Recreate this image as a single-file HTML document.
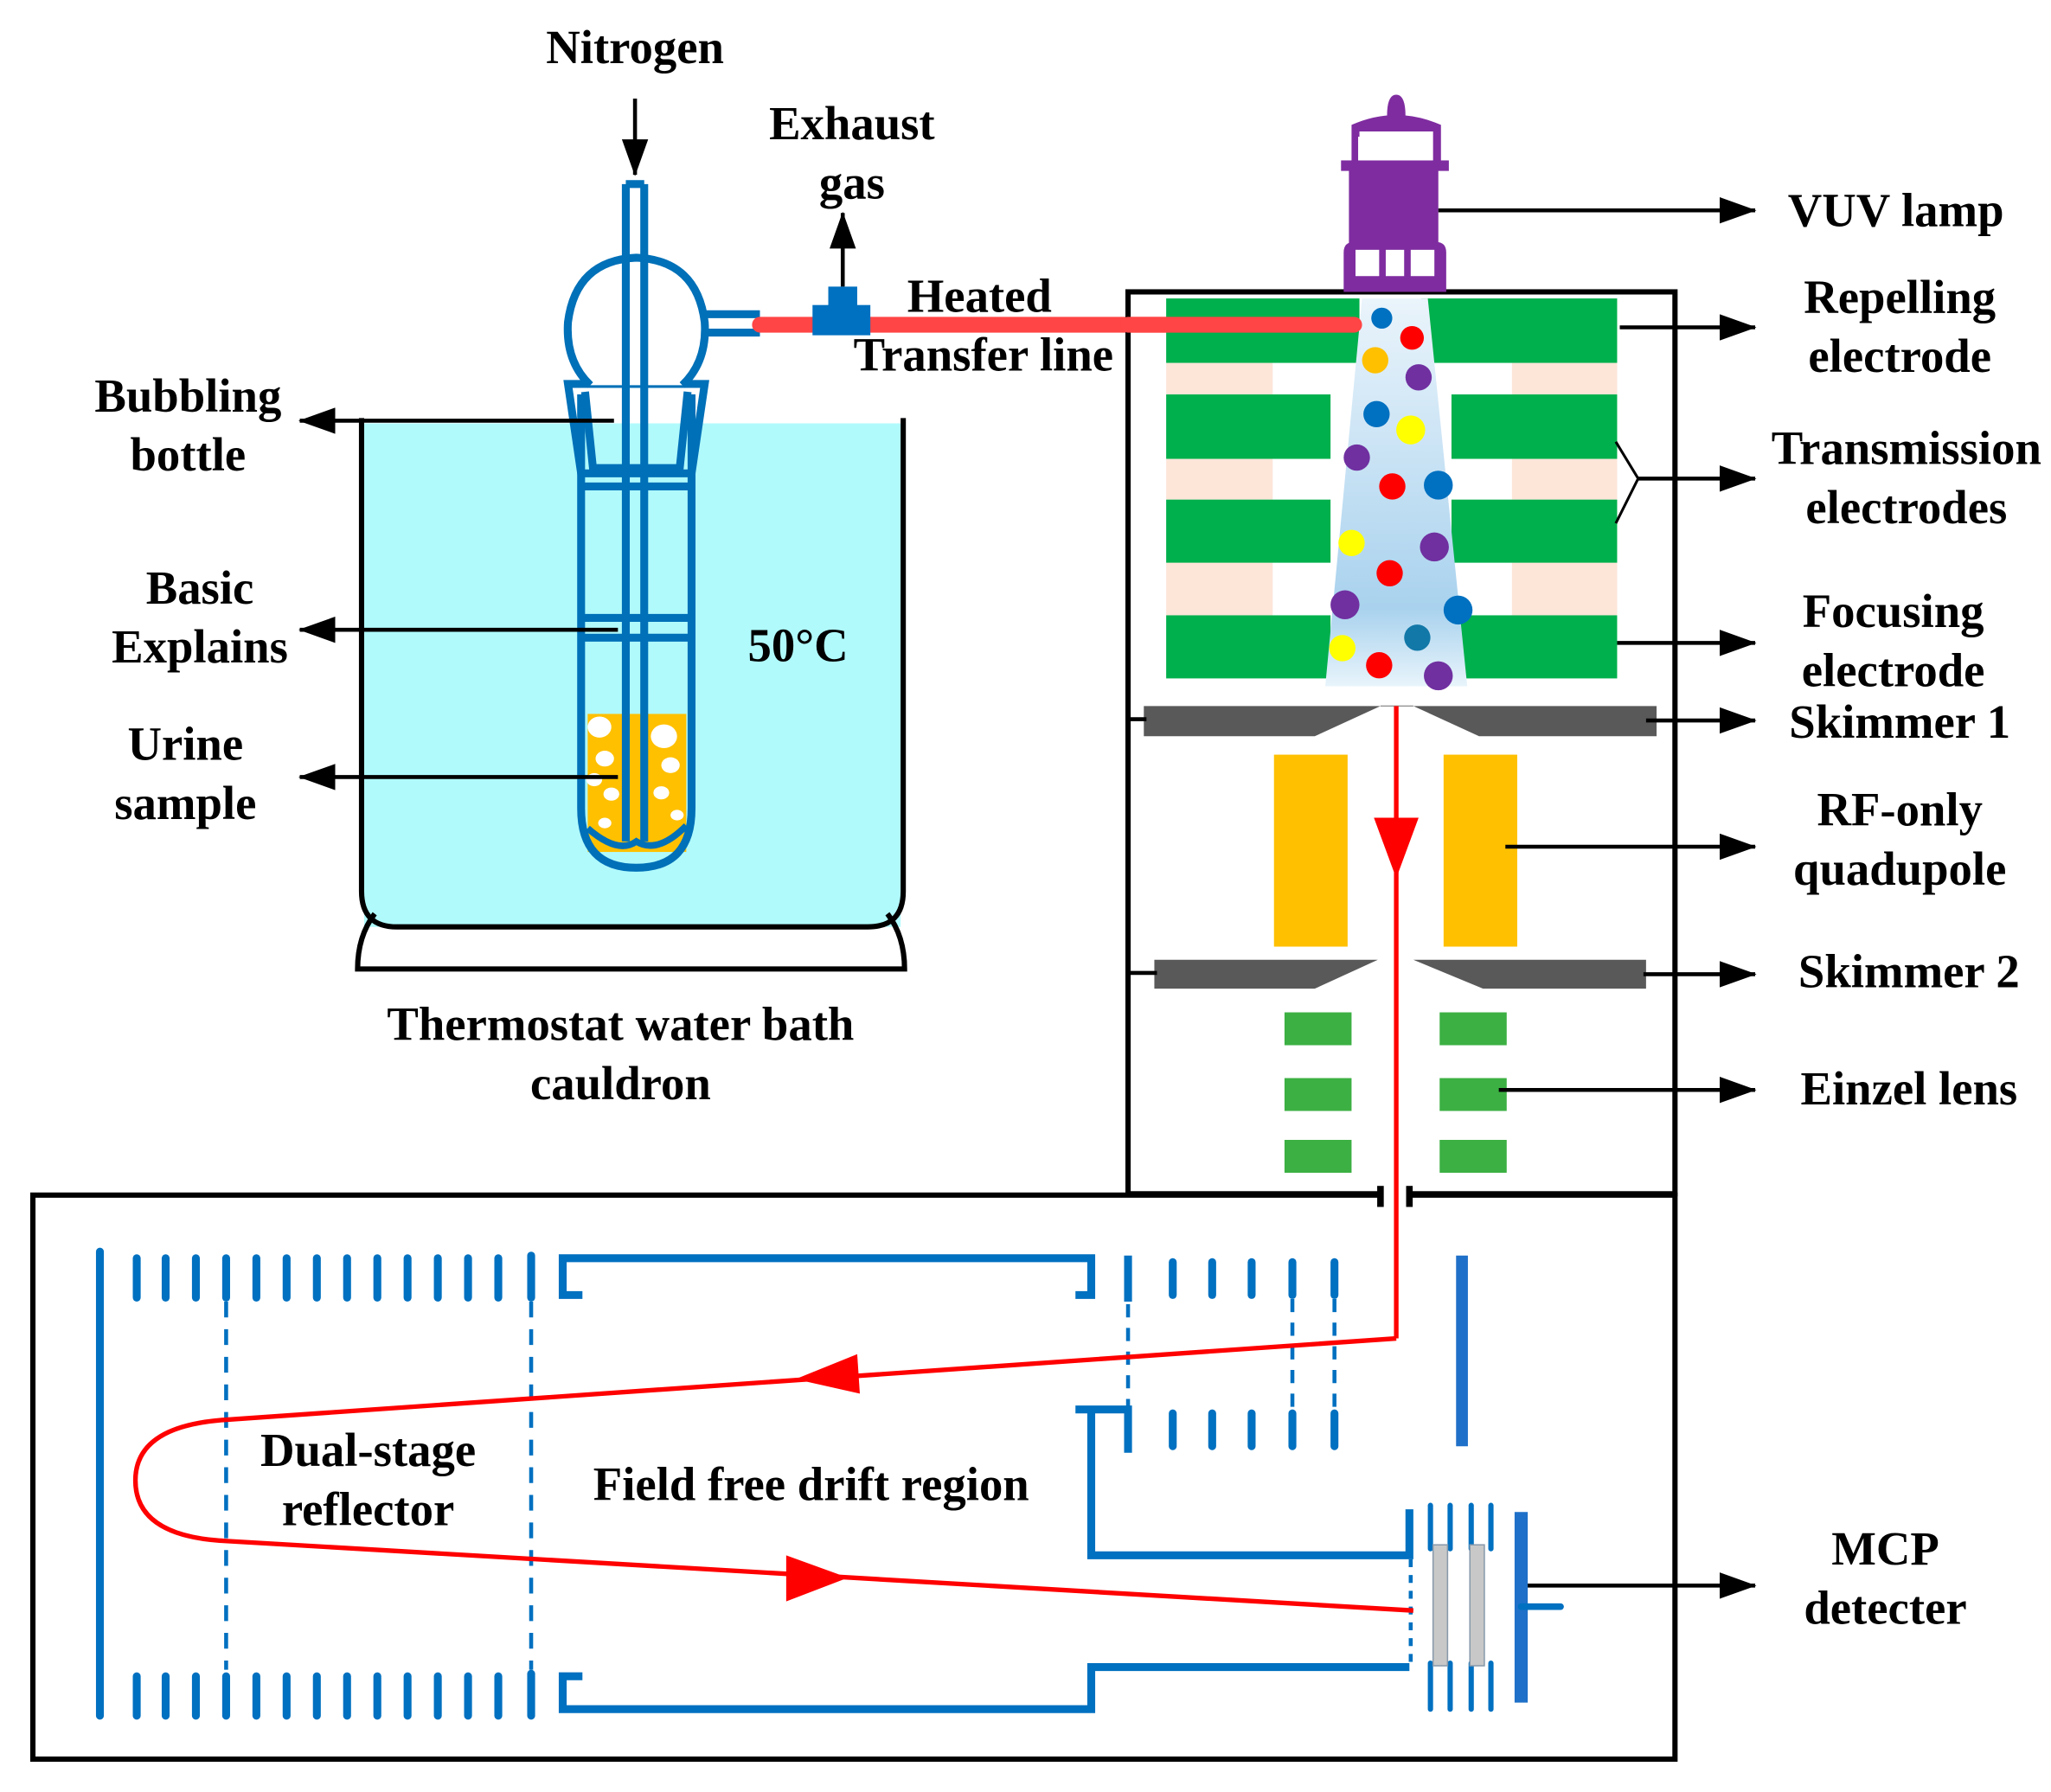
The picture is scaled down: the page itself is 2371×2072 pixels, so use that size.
<!DOCTYPE html>
<html><head><meta charset="utf-8"><style>html,body{margin:0;padding:0;background:#fff}svg{display:block}text{font-family:"Liberation Serif",serif;font-weight:bold;font-size:36px;fill:#000;text-anchor:middle}</style></head>
<body>
<svg width="2371" height="2072" viewBox="0 0 1560 1363" preserveAspectRatio="none" xmlns="http://www.w3.org/2000/svg">
<defs>
<marker id="ah" markerWidth="28" markerHeight="20" refX="27" refY="10" orient="auto" markerUnits="userSpaceOnUse" viewBox="0 0 28 20"><path d="M0,0 L28,10 L0,20 z" fill="#000"/></marker>
<linearGradient id="beam" x1="0" y1="0" x2="0" y2="1"><stop offset="0" stop-color="#eaf4fb"/><stop offset="0.8" stop-color="#a9d2ee"/><stop offset="1" stop-color="#e8f4fb"/></linearGradient>
</defs>
<rect x="277" y="322" width="408" height="383" fill="#b0fafc"/>
<path d="M275,318 V678 Q275,705 302,705 H660 Q687,705 687,678 V318" fill="none" stroke="#000" stroke-width="4"/>
<path d="M285,695 Q272,712 272,737 H688 Q688,712 675,695" fill="none" stroke="#000" stroke-width="4"/>
<g fill="none" stroke="#0070b8" stroke-width="6">
<rect x="447" y="543" width="75" height="105" fill="#ffc000" stroke="none"/>
<path d="M442,300 V615 Q442,660 484,660 Q526,660 526,615 V300"/>
<path d="M432,292 H536 L526,360 H442 Z"/>
<path d="M445,298 L451,356 H517 L523,298"/>
<path d="M443,370 H525 M443,470 H525 M443,485 H525"/>
<path d="M449,293 Q430,275 432,245 Q438,198 484,196 Q530,198 536,245 Q538,275 519,293" fill="#fff"/>
<path d="M476,140 V640 M490,140 V640 M476,140 H490"/>
<path d="M535,239 H578 M535,253 H578"/>
</g>
<g fill="#fff"><ellipse cx="456" cy="553" rx="9" ry="8"/><ellipse cx="460" cy="577" rx="7" ry="6"/><ellipse cx="452" cy="593" rx="6" ry="5"/><ellipse cx="465" cy="604" rx="6" ry="5"/><ellipse cx="505" cy="560" rx="10" ry="9"/><ellipse cx="510" cy="582" rx="7" ry="6"/><ellipse cx="503" cy="603" rx="6" ry="5"/><ellipse cx="515" cy="620" rx="5" ry="4"/><ellipse cx="460" cy="626" rx="5" ry="4"/></g>
<path d="M447,630 Q470,650 484,640 Q500,650 522,628" stroke="#0070b8" stroke-width="5" fill="none"/>
<line x1="578" y1="247" x2="1030" y2="247" stroke="#ff4545" stroke-width="12" stroke-linecap="round"/>
<rect x="618" y="232" width="44" height="23" fill="#0070c0"/><rect x="630" y="218" width="22" height="16" fill="#0070c0"/>
<line x1="641" y1="218" x2="641" y2="162" stroke="#000" stroke-width="3" marker-end="url(#ah)"/>
<line x1="483" y1="75" x2="483" y2="133" stroke="#000" stroke-width="3" marker-end="url(#ah)"/>
<g stroke="#000" stroke-width="3" marker-end="url(#ah)">
<line x1="467" y1="320" x2="228" y2="320"/><line x1="470" y1="479" x2="228" y2="479"/><line x1="470" y1="591" x2="228" y2="591"/>
</g>
<rect x="858" y="222" width="416" height="686" fill="none" stroke="#000" stroke-width="4"/>
<g fill="#fde5d8"><rect x="887" y="276" width="81" height="24"/><rect x="887" y="349" width="81" height="31"/><rect x="887" y="428" width="81" height="40"/><rect x="1150" y="276" width="80" height="24"/><rect x="1150" y="349" width="80" height="31"/><rect x="1150" y="428" width="80" height="40"/></g>
<g fill="#00b04c"><rect x="887" y="227" width="147" height="49"/><rect x="1081" y="227" width="149" height="49"/><rect x="887" y="300" width="125" height="49"/><rect x="1104" y="300" width="126" height="49"/><rect x="887" y="380" width="125" height="48"/><rect x="1104" y="380" width="126" height="48"/><rect x="887" y="468" width="125" height="48"/><rect x="1104" y="468" width="126" height="48"/></g>
<path d="M1036,227 H1086 L1116,522 H1008 Z" fill="url(#beam)"/>
<line x1="858" y1="247" x2="1030" y2="247" stroke="#ff4545" stroke-width="12" stroke-linecap="round"/>
<g>
<circle cx="1051" cy="242" r="8" fill="#0070c0"/><circle cx="1074" cy="257" r="9" fill="#f00"/><circle cx="1046" cy="274" r="10" fill="#ffc000"/><circle cx="1079" cy="287" r="10" fill="#7030a0"/><circle cx="1047" cy="315" r="10" fill="#0070c0"/><circle cx="1073" cy="327" r="11" fill="#ff0"/><circle cx="1032" cy="348" r="10" fill="#7030a0"/><circle cx="1059" cy="370" r="10" fill="#f00"/><circle cx="1094" cy="369" r="11" fill="#0070c0"/><circle cx="1028" cy="413" r="10" fill="#ff0"/><circle cx="1091" cy="416" r="11" fill="#7030a0"/><circle cx="1057" cy="436" r="10" fill="#f00"/><circle cx="1023" cy="460" r="11" fill="#7030a0"/><circle cx="1109" cy="464" r="11" fill="#0070c0"/><circle cx="1078" cy="485" r="10" fill="#1278a8"/><circle cx="1021" cy="493" r="10" fill="#ff0"/><circle cx="1049" cy="506" r="10" fill="#f00"/><circle cx="1094" cy="514" r="11" fill="#7030a0"/>
</g>
<g fill="#7f2ca0">
<rect x="1026" y="128" width="68" height="60"/><rect x="1020" y="122" width="82" height="8"/>
<path d="M1028,122 V95 Q1062,80 1096,95 V122 H1090 V100 H1034 V122 Z"/>
<path d="M1055,88 Q1055,72 1062,72 Q1069,72 1069,88 Z"/>
<path d="M1022,222 V192 Q1022,184 1030,184 H1092 Q1100,184 1100,192 V222 Z"/>
</g>
<g fill="#fff"><rect x="1031" y="190" width="18" height="20"/><rect x="1054" y="190" width="14" height="20"/><rect x="1073" y="190" width="18" height="20"/><rect x="1033" y="104" width="56" height="18"/></g>
<g fill="#595959">
<path d="M870,537 H1050 L1000,560 H870 Z"/><path d="M1075,537 H1260 V560 H1125 Z"/>
<path d="M878,730 H1048 L1000,752 H878 Z"/><path d="M1075,730 H1252 V752 H1128 Z"/>
</g>
<line x1="1050" y1="537" x2="1075" y2="537" stroke="#999" stroke-width="1"/>
<line x1="858" y1="547" x2="872" y2="547" stroke="#000" stroke-width="3"/><line x1="858" y1="740" x2="880" y2="740" stroke="#000" stroke-width="3"/>
<g fill="#ffc000"><rect x="969" y="574" width="56" height="146"/><rect x="1098" y="574" width="56" height="146"/></g>
<g fill="#3cb043"><rect x="977" y="770" width="51" height="25"/><rect x="977" y="820" width="51" height="25"/><rect x="977" y="867" width="51" height="25"/><rect x="1095" y="770" width="51" height="25"/><rect x="1095" y="820" width="51" height="25"/><rect x="1095" y="867" width="51" height="25"/></g>
<g stroke="#000" stroke-width="3" marker-end="url(#ah)">
<line x1="1094" y1="160" x2="1335" y2="160"/><line x1="1232" y1="249" x2="1335" y2="249"/><line x1="1246" y1="364" x2="1335" y2="364"/><line x1="1230" y1="489" x2="1335" y2="489"/><line x1="1252" y1="548" x2="1335" y2="548"/><line x1="1145" y1="644" x2="1335" y2="644"/><line x1="1250" y1="741" x2="1335" y2="741"/><line x1="1140" y1="829" x2="1335" y2="829"/><line x1="1160" y1="1206" x2="1335" y2="1206"/>
</g>
<path d="M1229,336 L1246,364 L1229,398" fill="none" stroke="#000" stroke-width="2"/>
<rect x="25" y="909" width="1249" height="429" fill="none" stroke="#000" stroke-width="4"/>
<rect x="1052" y="903" width="18" height="12" fill="#fff"/>
<g stroke="#000" stroke-width="5"><line x1="1050" y1="902" x2="1050" y2="918"/><line x1="1072" y1="902" x2="1072" y2="918"/></g>
<g stroke="#0070c0" stroke-width="6" fill="none" stroke-linecap="round">
<line x1="76" y1="952" x2="76" y2="1305"/>
<g id="bars"><line x1="104" y1="957" x2="104" y2="987"/><line x1="126" y1="957" x2="126" y2="987"/><line x1="149" y1="957" x2="149" y2="987"/><line x1="172" y1="957" x2="172" y2="987"/><line x1="195" y1="957" x2="195" y2="987"/><line x1="218" y1="957" x2="218" y2="987"/><line x1="241" y1="957" x2="241" y2="987"/><line x1="264" y1="957" x2="264" y2="987"/><line x1="287" y1="957" x2="287" y2="987"/><line x1="310" y1="957" x2="310" y2="987"/><line x1="333" y1="957" x2="333" y2="987"/><line x1="356" y1="957" x2="356" y2="987"/><line x1="379" y1="957" x2="379" y2="987"/><line x1="404" y1="955" x2="404" y2="987"/></g>
<use href="#bars" transform="translate(0,318)"/>
<line x1="172" y1="990" x2="172" y2="1270" stroke-width="3" stroke-dasharray="12,9" stroke-linecap="butt"/>
<line x1="404" y1="990" x2="404" y2="1270" stroke-width="3" stroke-dasharray="12,9" stroke-linecap="butt"/>
<path d="M443,985 H428 V957 H830 V985 H818 M858,955 V990" stroke-linecap="butt"/>
<path d="M443,1275 H428 V1300 H830 V1268 H1072" stroke-linecap="butt"/>
<path d="M818,1072 H858 V1105 M830,1072 V1183 H1072 V1148" stroke-linecap="butt"/>
<g><line x1="892" y1="960" x2="892" y2="985"/><line x1="922" y1="960" x2="922" y2="985"/><line x1="952" y1="960" x2="952" y2="985"/><line x1="983" y1="960" x2="983" y2="985"/><line x1="1015" y1="960" x2="1015" y2="985"/>
<line x1="892" y1="1075" x2="892" y2="1100"/><line x1="922" y1="1075" x2="922" y2="1100"/><line x1="952" y1="1075" x2="952" y2="1100"/><line x1="983" y1="1075" x2="983" y2="1100"/><line x1="1015" y1="1075" x2="1015" y2="1100"/></g>
<g stroke-width="3" stroke-dasharray="10,8" stroke-linecap="butt"><line x1="858" y1="992" x2="858" y2="1070"/><line x1="983" y1="988" x2="983" y2="1072"/><line x1="1015" y1="988" x2="1015" y2="1072"/><line x1="1073" y1="1186" x2="1073" y2="1268" stroke-dasharray="6,6"/></g>
<line x1="1112" y1="955" x2="1112" y2="1100" stroke="#1f70c8" stroke-width="9" stroke-linecap="butt"/>
<g stroke-width="4"><line x1="1088" y1="1145" x2="1088" y2="1178"/><line x1="1103" y1="1145" x2="1103" y2="1178"/><line x1="1119" y1="1145" x2="1119" y2="1178"/><line x1="1134" y1="1145" x2="1134" y2="1178"/><line x1="1088" y1="1265" x2="1088" y2="1300"/><line x1="1103" y1="1265" x2="1103" y2="1300"/><line x1="1119" y1="1265" x2="1119" y2="1300"/><line x1="1134" y1="1265" x2="1134" y2="1300"/></g>
<line x1="1157" y1="1150" x2="1157" y2="1295" stroke="#1f70c8" stroke-width="10" stroke-linecap="butt"/>
<line x1="1157" y1="1222" x2="1187" y2="1222" stroke-width="5"/>
</g>
<g fill="#c8c8c8" stroke="#8899aa" stroke-width="1"><rect x="1090" y="1175" width="11" height="92"/><rect x="1118" y="1175" width="11" height="92"/></g>
<g stroke="#f00" fill="none" stroke-width="3.5">
<line x1="1062" y1="537" x2="1062" y2="1018"/>
<path d="M1062,1018 L170,1080 Q103,1085 103,1126 Q103,1168 170,1172 L1075,1225"/>
</g>
<g fill="#f00">
<path d="M1045,622 H1079 L1062,668 Z"/>
<path d="M605,1049 L652,1030 L654,1060 Z"/>
<path d="M645,1200 L598,1183 L598,1218 Z"/>
</g>
<text x="483" y="48">Nitrogen</text>
<text x="648" y="106">Exhaust</text><text x="648" y="151">gas</text>
<text x="745" y="237">Heated</text><text x="748" y="282">Transfer line</text>
<text x="143" y="313">Bubbling</text><text x="143" y="358">bottle</text>
<text x="152" y="459">Basic</text><text x="152" y="504">Explains</text>
<text x="141" y="578">Urine</text><text x="141" y="623">sample</text>
<text x="607" y="503">50°C</text>
<text x="472" y="791">Thermostat water bath</text><text x="472" y="836">cauldron</text>
<text x="1442" y="172">VUV lamp</text>
<text x="1445" y="238">Repelling</text><text x="1445" y="283">electrode</text>
<text x="1450" y="353">Transmission</text><text x="1450" y="398">electrodes</text>
<text x="1440" y="477">Focusing</text><text x="1440" y="522">electrode</text>
<text x="1445" y="561">Skimmer 1</text>
<text x="1445" y="628">RF-only</text><text x="1445" y="673">quadupole</text>
<text x="1452" y="751">Skimmer 2</text>
<text x="1452" y="840">Einzel lens</text>
<text x="1434" y="1190">MCP</text><text x="1434" y="1235">detecter</text>
<text x="280" y="1115">Dual-stage</text><text x="280" y="1160">reflector</text>
<text x="617" y="1141">Field free drift region</text>
</svg>
</body></html>
